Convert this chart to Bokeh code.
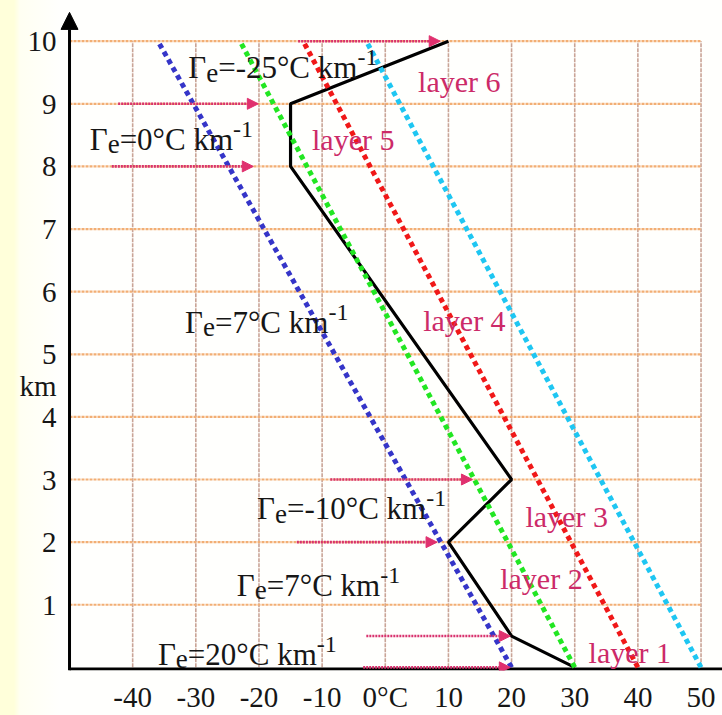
from bokeh.plotting import figure
from bokeh.models import ColumnDataSource, Range1d, FixedTicker, Label, Arrow, NormalHead
from bokeh.embed import file_html
from bokeh.resources import INLINE

# ---------------- data ----------------
profile_height = [0, 0.5, 2, 3, 8, 9, 10]
profile_temp = [30, 20, 10, 20, -15, -15, 10]

adiabat_base_temp = [20, 30, 40, 50]
adiabat_top_temp = [-36, -23, -13, -3]
adiabat_base_height = [0, 0, 0, 0]
adiabat_top_height = [10, 10, 10, 10]

arrow_height = [0, 0.5, 2, 3, 8, 9, 10]
arrow_start = [-3.5, -3, -14, -8.7, -43.3, -42.3, -13.8]
arrow_end = [19.8, 19.8, 8.2, 13.8, -20.9, -20.1, 8.7]

layer_names = ["layer 1", "layer 2", "layer 3", "layer 4", "layer 5", "layer 6"]
lapse_rates = ["20", "7", "-10", "7", "0", "-25"]

x_ticks = [-40, -30, -20, -10, 0, 10, 20, 30, 40, 50]
x_tick_labels = ["-40", "-30", "-20", "-10", "0°C", "10", "20", "30", "40", "50"]
y_ticks = [1, 2, 3, 4, 5, 6, 7, 8, 9, 10]
y_unit = "km"
y_unit_at = 4.5
x_axis_min = -50

# ---------------- layout / styles ----------------
lapse_label_pos = [(-36.0, 0.095), (-23.5, 1.20), (-20.3, 2.42),
                   (-31.7, 5.40), (-46.8, 8.32), (-31.2, 9.46)]
layer_label_pos = [(32.2, 0.13), (18.2, 1.31), (22.2, 2.29),
                   (6.0, 5.43), (-11.6, 8.32), (5.2, 9.24)]
LABEL_SHIFT = 7  # px, upward correction of label baselines
adiabat_colors = ["#3535C8", "#22E622", "#F01818", "#1EC6F2"]
FONT = "Liberation Serif"
PINK = "#CC2A68"
TEXT = "#161616"

X0, X1 = -52.22, 53.4
Y0, Y1 = -0.05, 10.49

p = figure(width=722, height=715,
           x_range=Range1d(X0, X1), y_range=Range1d(Y0, Y1),
           output_backend="svg", toolbar_location=None,
           min_border_left=55, min_border_right=0,
           min_border_top=10, min_border_bottom=39)
p.outline_line_color = None
p.border_fill_color = None
p.background_fill_color = None
p.styles = {"background": "linear-gradient(90deg, #FFFFDA 0px, #FFFFDA 14px, "
                          "#FFFFF2 20px, #FFFFFD 60px, #FFFFFD 100%)"}
p.xgrid.visible = False
p.ygrid.visible = False

# grid (bounded box)
grid_x_top = [max(y_ticks)] * len(x_ticks)
grid_x_bot = [0] * len(x_ticks)
p.segment(x0=x_ticks, y0=grid_x_bot, x1=x_ticks, y1=grid_x_top,
          line_color="#C9A496", line_width=1.6, line_dash="4 1")
grid_y_left = [x_axis_min] * len(y_ticks)
grid_y_right = [max(x_ticks)] * len(y_ticks)
p.segment(x0=grid_y_left, y0=y_ticks, x1=grid_y_right, y1=y_ticks,
          line_color="#F2AE74", line_width=2.2, line_dash="3 1")

# axes (labels from Bokeh axes, lines drawn at the chart's origin)
for ax in (p.xaxis[0], p.yaxis[0]):
    ax.axis_line_color = None
    ax.major_tick_line_color = None
    ax.minor_tick_line_color = None
    ax.major_label_text_font = FONT
    ax.major_label_text_font_size = "29px"
    ax.major_label_text_color = TEXT
p.xaxis.ticker = FixedTicker(ticks=x_ticks)
p.xaxis.major_label_overrides = {t: s for t, s in zip(x_ticks, x_tick_labels)}
p.xaxis.major_label_standoff = 4
p.yaxis.ticker = FixedTicker(ticks=y_ticks + [y_unit_at])
yo = {t: str(t) for t in y_ticks}
yo[y_unit_at] = y_unit
p.yaxis.major_label_overrides = yo
p.yaxis.major_label_standoff = -7

p.segment(x0=[x_axis_min], y0=[Y0 + 0.025], x1=[X1], y1=[Y0 + 0.025],
          line_color="black", line_width=3)
p.add_layout(Arrow(x_start=x_axis_min, y_start=Y0, x_end=x_axis_min, y_end=Y1 - 0.03,
                   line_width=3, line_color="black",
                   end=NormalHead(size=17, fill_color="black", line_color="black")))

# environmental profile
p.line(profile_temp, profile_height, line_color="black", line_width=3.2)

# adiabats
p.segment(x0=adiabat_base_temp, y0=adiabat_base_height,
          x1=adiabat_top_temp, y1=adiabat_top_height,
          line_color=adiabat_colors, line_width=5, line_dash="5 4")

# pink arrows
asrc = ColumnDataSource(dict(x0=arrow_start, x1=arrow_end, y=arrow_height))
p.add_layout(Arrow(x_start="x0", y_start="y", x_end="x1", y_end="y", source=asrc,
                   line_color="#D8326E", line_width=2.6, line_dash="2 1",
                   end=NormalHead(size=11, fill_color="#E0306E", line_color="#E0306E")))

# lapse-rate labels (Γe = ... °C km-1) composed of pieces
W = {"Γ": 0.578, "e": 0.444, "=": 0.564, "-": 0.333, "°": 0.4, "C": 0.667,
     " ": 0.25, "k": 0.5, "m": 0.778}


def tw(s, size):
    return sum(W.get(c, 0.5) for c in s) * size


MAIN, SUB, SUP = 31, 27, 24
for (lx, ly), rate in zip(lapse_label_pos, lapse_rates):
    pieces = [("Γ", MAIN, 0), ("e", SUB, -5), ("=" + rate + "°C km", MAIN, 0), ("-1", SUP, 10)]
    off = 0.0
    for txt, size, yoff in pieces:
        p.add_layout(Label(x=lx, y=ly, x_offset=off, y_offset=yoff + LABEL_SHIFT, text=txt,
                           text_font=FONT, text_font_size=f"{size}px",
                           text_color=TEXT, text_baseline="alphabetic",
                           text_align="left"))
        off += tw(txt, size)

# layer labels
for (lx, ly), name in zip(layer_label_pos, layer_names):
    p.add_layout(Label(x=lx, y=ly, y_offset=LABEL_SHIFT, text=name, text_font=FONT,
                       text_font_size="30px", text_color=PINK,
                       text_baseline="alphabetic", text_align="left"))

open("out.html", "w").write(file_html(p, INLINE))
